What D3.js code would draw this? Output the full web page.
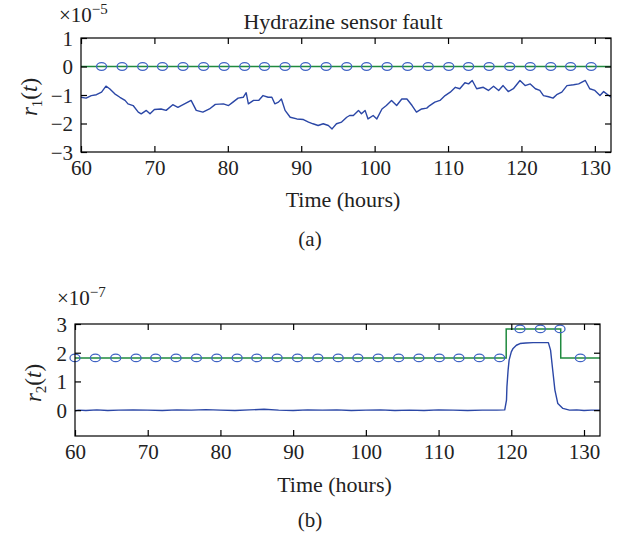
<!DOCTYPE html>
<html><head><meta charset="utf-8">
<script src="https://cdn.jsdelivr.net/npm/d3@7"></script>
<style>body{margin:0;background:#fff}svg{display:block}</style>
</head><body>
<svg id="c" width="622" height="539"></svg>
<script>
// ---- data ----
const r1Time = [60.0,60.7,61.4,62.1,62.8,63.4,63.9,64.6,65.3,66.0,66.4,67.1,67.8,68.2,68.9,69.4,70.0,70.9,71.6,72.5,73.2,74.1,75.0,75.7,76.6,77.5,78.3,79.4,80.1,80.7,81.4,82.1,82.5,82.8,83.5,84.2,84.8,85.5,86.0,86.4,86.9,87.3,87.8,88.5,89.4,90.3,91.0,91.6,92.3,93.0,93.7,94.2,94.8,95.5,96.2,96.6,97.1,97.8,98.2,98.7,99.1,99.8,100.3,101.0,101.6,102.3,103.0,103.7,104.4,105.1,105.7,106.4,107.1,107.5,108.2,108.9,109.6,110.3,111.0,111.6,112.3,112.8,113.3,113.9,114.8,115.5,116.2,116.9,117.5,118.2,118.9,119.8,120.5,121.2,121.9,122.5,123.0,123.7,124.3,124.8,125.5,126.2,127.1,127.8,128.7,129.3,130.0,130.7,131.2,131.9,132.2];
const r1Value = [-1.08,-1.11,-1.02,-0.99,-0.90,-0.69,-0.78,-0.96,-1.08,-1.19,-1.31,-1.37,-1.60,-1.66,-1.54,-1.66,-1.51,-1.49,-1.54,-1.34,-1.43,-1.31,-1.19,-1.54,-1.60,-1.49,-1.33,-1.31,-1.37,-1.25,-1.11,-1.08,-0.92,-1.31,-1.19,-1.19,-1.02,-1.08,-1.08,-1.31,-1.25,-1.14,-1.54,-1.78,-1.84,-1.86,-1.95,-2.01,-2.07,-2.01,-2.07,-2.19,-2.01,-1.95,-1.78,-1.72,-1.72,-1.54,-1.66,-1.54,-1.84,-1.72,-1.84,-1.49,-1.37,-1.19,-1.37,-1.14,-1.14,-1.37,-1.60,-1.49,-1.46,-1.37,-1.25,-1.19,-1.02,-0.90,-0.73,-0.78,-0.57,-0.61,-0.49,-0.78,-0.73,-0.84,-0.69,-0.84,-0.67,-0.88,-0.78,-0.49,-0.67,-0.61,-0.78,-0.84,-1.02,-1.06,-1.11,-0.99,-0.90,-0.67,-0.64,-0.61,-0.49,-0.78,-0.84,-1.02,-0.88,-1.02,-1.08];
const r1ThreshTime = [60, 132.2];
const r1ThreshValue = [0, 0];
const r1MarkerTime = [62.8,65.6,68.4,71.1,73.9,76.7,79.5,82.3,85.0,87.8,90.6,93.4,96.2,98.9,101.7,104.5,107.3,110.1,112.8,115.6,118.4,121.2,124.0,126.7,129.5];

const r2Time = [60,60.5,61.5,63,64.5,66,68,70,72,74,76,78,80,82,84,86,88,90,92,94,96,98,100,102,104,106,108,110,112,114,116,118,119.1,119.34,119.4,119.56,119.7,120.0,120.25,120.7,121.2,122,123,124,125.1,125.4,125.7,126.0,126.4,127.1,128,129,130,131,132.2];
const r2Value = [-0.02,0.0,-0.01,0.01,-0.01,0.0,0.01,0.0,-0.01,0.01,0.0,0.02,0.0,-0.01,0.01,0.03,0.0,-0.01,0.01,0.0,0.01,-0.01,0.0,0.01,-0.01,0.0,-0.01,0.01,0.0,-0.01,0.0,0.0,0.01,0.35,0.81,1.39,1.74,2.03,2.15,2.26,2.32,2.34,2.35,2.35,2.35,2.09,1.39,0.70,0.23,0.06,0.0,0.01,-0.01,0.0,0.0];
const r2ThreshTime = [60, 119.3, 126.8, 132.2];
const r2ThreshValue = [1.82, 2.83, 1.82, 1.82];
const r2MarkerTime = [60.0,62.8,65.6,68.4,71.1,73.9,76.7,79.5,82.3,85.0,87.8,90.6,93.4,96.2,98.9,101.7,104.5,107.3,110.1,112.8,115.6,118.4,121.2,124.0,126.7,129.5];

const xTicks = [60,70,80,90,100,110,120,130];
const r1YTicks = [-3,-2,-1,0,1];
const r2YTicks = [0,1,2,3];

// ---- drawing ----
const svg = d3.select("#c");
const FONT = "'Liberation Serif','Times New Roman',serif";
const BLUE = "#2b47a6", GREEN = "#1f8a3e", MARK = "#3f63c4";
const TXT = "#222";

function stepValue(times, vals, t){
  let v = vals[0];
  for (let i=0;i<times.length;i++){ if (t >= times[i]) v = vals[i]; }
  return v;
}

function panel(cfg){
  const {L,R,T,B,yDom,yTicks,time,val,thT,thV,mk,clipId,exp,ylab,sub,xlabY,tagY,tag} = cfg;
  const x = d3.scaleLinear().domain([60,132.2]).range([L,R]);
  const y = d3.scaleLinear().domain(yDom).range([B,T]);
  const g = svg.append("g");
  g.append("clipPath").attr("id",clipId).append("rect")
    .attr("x",L).attr("y",T).attr("width",R-L).attr("height",B-T);
  const plot = g.append("g").attr("clip-path",`url(#${clipId})`);

  const thData = thT.map((t,i)=>[t,thV[i]]);
  plot.append("path").datum(thData)
    .attr("d", d3.line().x(d=>x(d[0])).y(d=>y(d[1])).curve(d3.curveStepAfter))
    .attr("fill","none").attr("stroke",GREEN).attr("stroke-width",1.5);
  g.append("g").selectAll("ellipse").data(mk).join("ellipse")
    .attr("cx",t=>x(t)).attr("cy",t=>y(stepValue(thT,thV,t)))
    .attr("rx",5).attr("ry",3.8)
    .attr("fill","none").attr("stroke",MARK).attr("stroke-width",1.3);
  const data = time.map((t,i)=>[t,val[i]]);
  plot.append("path").datum(data)
    .attr("d", d3.line().x(d=>x(d[0])).y(d=>y(d[1])))
    .attr("fill","none").attr("stroke",BLUE).attr("stroke-width",1.4)
    .attr("stroke-linejoin","round");

  g.append("rect").attr("x",L).attr("y",T).attr("width",R-L).attr("height",B-T)
    .attr("fill","none").attr("stroke","#000").attr("stroke-width",1.2);

  const fmt = d3.format("d");
  const ax = g.append("g").attr("transform",`translate(0,${B})`)
    .call(d3.axisBottom(x).tickValues(xTicks).tickSizeInner(-6).tickSizeOuter(0).tickFormat(fmt));
  ax.selectAll("text").attr("y",23).attr("dy",null);
  g.append("g").attr("transform",`translate(0,${T})`)
    .call(d3.axisTop(x).tickValues(xTicks).tickSizeInner(-6).tickSizeOuter(0).tickFormat(""));
  const ay = g.append("g").attr("transform",`translate(${L},0)`)
    .call(d3.axisLeft(y).tickValues(yTicks).tickSizeInner(-6).tickSizeOuter(0).tickFormat(fmt));
  ay.selectAll("text").attr("x",-8).attr("dy","0.35em");
  g.append("g").attr("transform",`translate(${R},0)`)
    .call(d3.axisRight(y).tickValues(yTicks).tickSizeInner(-6).tickSizeOuter(0).tickFormat(""));
  g.selectAll(".domain").remove();
  g.selectAll(".tick line").attr("stroke","#000").attr("stroke-width",1.2);
  g.selectAll(".tick text").attr("font-family",FONT).attr("font-size",21).attr("fill",TXT);

  const e = g.append("text").attr("x",exp.x).attr("y",exp.y)
    .attr("font-family",FONT).attr("font-size",21).attr("fill",TXT);
  e.append("tspan").text("×10");
  e.append("tspan").attr("dy",-8).attr("font-size",15).text(exp.p);

  const yl = g.append("text")
    .attr("transform",`translate(${ylab.x},${ylab.y}) rotate(-90)`)
    .attr("text-anchor","middle").attr("font-family",FONT).attr("font-size",23).attr("fill",TXT);
  yl.append("tspan").attr("font-style","italic").text("r");
  yl.append("tspan").attr("font-size",15).attr("dy",5).text(sub);
  yl.append("tspan").attr("dy",-5).text("(");
  yl.append("tspan").attr("font-style","italic").text("t");
  yl.append("tspan").text(")");

  g.append("text").attr("x",(L+R)/2-3).attr("y",xlabY).attr("text-anchor","middle")
    .attr("font-family",FONT).attr("font-size",22).attr("fill",TXT).text("Time (hours)");
  g.append("text").attr("x",310).attr("y",tagY).attr("text-anchor","middle")
    .attr("font-family",FONT).attr("font-size",21).attr("fill",TXT).text(tag);
  return {x,y};
}

panel({L:81,R:611,T:38,B:152,yDom:[-3,1],yTicks:r1YTicks,time:r1Time,val:r1Value,
  thT:r1ThreshTime,thV:r1ThreshValue,mk:r1MarkerTime,clipId:"c1",
  exp:{x:59,y:22,p:"−5"},ylab:{x:37,y:97},sub:"1",xlabY:207,tagY:246,tag:"(a)"});

svg.append("text").attr("x",343).attr("y",29).attr("text-anchor","middle")
  .attr("font-family",FONT).attr("font-size",22).attr("fill",TXT).text("Hydrazine sensor fault");

panel({L:75,R:600,T:324,B:436,yDom:[-0.9,3],yTicks:r2YTicks,time:r2Time,val:r2Value,
  thT:r2ThreshTime,thV:r2ThreshValue,mk:r2MarkerTime,clipId:"c2",
  exp:{x:57,y:305,p:"−7"},ylab:{x:41,y:383},sub:"2",xlabY:492,tagY:527,tag:"(b)"});
</script>
</body></html>
